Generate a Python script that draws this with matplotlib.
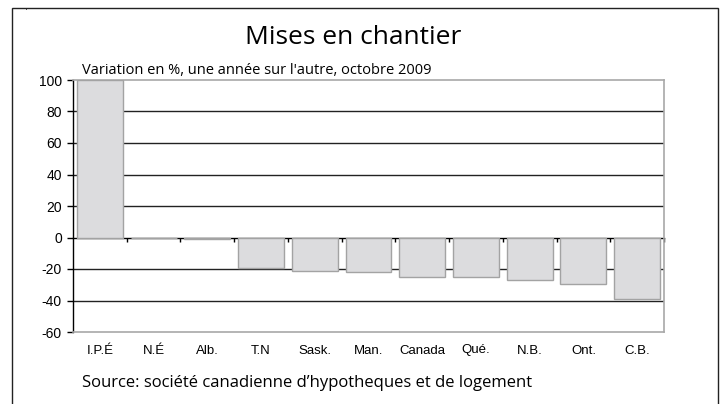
import matplotlib
matplotlib.use('Agg')
import matplotlib.pyplot as plt
from matplotlib.patches import Rectangle
import numpy as np

# data
regions = ['I.P.É', 'N.É', 'Alb.', 'T.N', 'Sask.', 'Man.', 'Canada', 'Qué.', 'N.B.', 'Ont.', 'C.B.']
change = [100.0, 0.0, -0.9, -19.4, -21.2, -22.2, -25.1, -25.2, -27.0, -29.8, -39.0]
yticks = [-60, -40, -20, 0, 20, 40, 60, 80, 100]

title = 'Mises en chantier'
subtitle = 'Variation en %, une année sur l\'autre, octobre 2009'
source = 'Source: société canadienne d’hypotheques et de logement'

W, H = 722, 404
fig = plt.figure(figsize=(W / 100, H / 100), dpi=100)
plt.rcParams['font.family'] = ['Liberation Sans', 'DejaVu Sans']

# plot area in pixels: left 73, right 664, top 80, bottom 332
ax = fig.add_axes([73 / W, 1 - 332 / H, (664 - 73) / W, (332 - 80) / H])

x = np.arange(len(regions))
ax.bar(x, change, width=0.855, color='#dcdcde', edgecolor='#a3a3a3',
       linewidth=1.0, zorder=3)

ax.set_xlim(-0.5, len(regions) - 0.5)
ax.set_ylim(yticks[0], yticks[-1])

# gridlines (not at frame edges)
for v in yticks[1:-1]:
	if v != 0:
		ax.axhline(v, color='#222222', linewidth=1.0, zorder=1)

ax.set_yticks(yticks)
ax.set_yticklabels([str(v) for v in yticks], fontsize=10)
ax.tick_params(axis='y', direction='out', length=4, width=1, pad=4, color='black')

ax.set_xticks(x)
ax.set_xticklabels(regions, fontsize=9.5)
ax.tick_params(axis='x', length=0, pad=9)

for side in ['top', 'right', 'bottom']:
	ax.spines[side].set_color('#a8a8a8')
	ax.spines[side].set_linewidth(1.2)
ax.spines['left'].set_color('black')
ax.spines['left'].set_linewidth(1.0)

# zero line with category-boundary ticks
zero_pos = (0 - yticks[0]) / (yticks[-1] - yticks[0])
sec = ax.secondary_xaxis(zero_pos)
sec.set_xticks(np.arange(len(regions)) + 0.5)
sec.set_xticklabels([])
sec.tick_params(axis='x', direction='out', length=3, width=1, color='black')
sec.spines['bottom'].set_color('black')
sec.spines['bottom'].set_linewidth(1.0)
sec.spines['bottom'].set_zorder(4)

# outer frame
fig.patches.append(Rectangle((12 / W, -0.05), (718 - 12) / W, 1.05 - 8 / H,
                             transform=fig.transFigure, fill=False,
                             edgecolor='#222222', linewidth=1.0))
fig.text(26 / W, 1 - 11 / H, '·', fontsize=6, ha='center', va='center')

fig.text(353 / W, 1 - 38 / H, title, fontsize=19, ha='center', va='center',
         family=['Open Sans', 'DejaVu Sans'], weight='medium')
fig.text(82 / W, 1 - 70 / H, subtitle, fontsize=10.5, ha='left', va='center',
         family=['Open Sans', 'DejaVu Sans'])
fig.text(82 / W, 1 - 383 / H, source, fontsize=12, ha='left', va='center',
         family=['Open Sans', 'DejaVu Sans'])

fig.savefig('out.png', dpi=100)
